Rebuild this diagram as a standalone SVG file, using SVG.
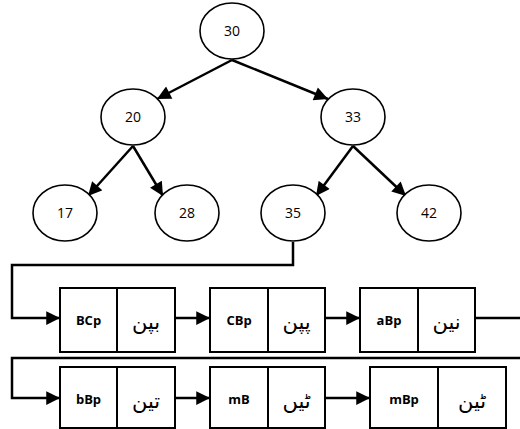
<svg xmlns="http://www.w3.org/2000/svg" width="520" height="429" viewBox="0 0 520 429">
  <style>
    .node ellipse { fill: #fff; stroke: #000; stroke-width: 1.6; }
    .num { font-family: "Open Sans", "Liberation Sans", sans-serif; font-size: 14px; text-anchor: middle; fill: #000; }
    .cell { fill: #fff; stroke: #000; stroke-width: 2; }
    .key { font-family: "Open Sans", "Liberation Sans", sans-serif; font-size: 13px; font-weight: bold; text-anchor: middle; fill: #000; }
    .ur { font-family: "DejaVu Sans", "Noto Sans", sans-serif; font-size: 21px; text-anchor: middle; fill: #000; }
    .edge { fill: none; stroke: #000; stroke-width: 2.5; }
  </style>
  <defs>
    <marker id="arrow" viewBox="0 0 10 10" refX="10" refY="5" markerWidth="6" markerHeight="5.5" markerUnits="strokeWidth" orient="auto">
      <path d="M0,0 L10,5 L0,10 z" fill="#000"/>
    </marker>
  </defs>

  <!-- tree and list connectors -->
  <g id="connectors">
    <line class="edge" x1="232" y1="60" x2="157" y2="99" marker-end="url(#arrow)"/>
    <line class="edge" x1="232" y1="60" x2="328" y2="99" marker-end="url(#arrow)"/>
    <line class="edge" x1="133" y1="146" x2="88" y2="196" marker-end="url(#arrow)"/>
    <line class="edge" x1="133" y1="146" x2="163" y2="196" marker-end="url(#arrow)"/>
    <line class="edge" x1="353" y1="146" x2="316" y2="196" marker-end="url(#arrow)"/>
    <line class="edge" x1="353" y1="146" x2="406" y2="196" marker-end="url(#arrow)"/>
    <path class="edge" d="M293,242 V265 H12 V318 H60" marker-end="url(#arrow)"/>
    <line class="edge" x1="175" y1="318" x2="210" y2="318" marker-end="url(#arrow)"/>
    <line class="edge" x1="325" y1="318" x2="360" y2="318" marker-end="url(#arrow)"/>
    <line class="edge" x1="475" y1="318" x2="520" y2="318"/>
    <path class="edge" d="M520,358 H12 V398 H60" marker-end="url(#arrow)"/>
    <line class="edge" x1="175" y1="398" x2="210" y2="398" marker-end="url(#arrow)"/>
    <line class="edge" x1="325" y1="398" x2="370" y2="398" marker-end="url(#arrow)"/>
  </g>

  <!-- tree nodes -->
  <g id="n30" class="node"><ellipse cx="232" cy="31" rx="32" ry="28"/><text class="num" x="232" y="36">30</text></g>
  <g id="n20" class="node"><ellipse cx="133" cy="117" rx="32" ry="28"/><text class="num" x="133" y="122">20</text></g>
  <g id="n33" class="node"><ellipse cx="353" cy="117" rx="32" ry="28"/><text class="num" x="353" y="122">33</text></g>
  <g id="n17" class="node"><ellipse cx="65" cy="213" rx="32" ry="28"/><text class="num" x="65" y="218">17</text></g>
  <g id="n28" class="node"><ellipse cx="187" cy="213" rx="32" ry="28"/><text class="num" x="187" y="218">28</text></g>
  <g id="n35" class="node"><ellipse cx="293" cy="213" rx="32" ry="28"/><text class="num" x="293" y="218">35</text></g>
  <g id="n42" class="node"><ellipse cx="429" cy="213" rx="32" ry="28"/><text class="num" x="429" y="218">42</text></g>

  <!-- list records: first row -->
  <g id="r1">
    <rect class="cell" x="60" y="288" width="57" height="64"/><rect class="cell" x="117" y="288" width="58" height="64"/>
    <text class="key" x="88.5" y="325">BCp</text><text class="ur" x="146" y="329">بپن</text>
  </g>
  <g id="r2">
    <rect class="cell" x="210" y="288" width="58" height="64"/><rect class="cell" x="268" y="288" width="57" height="64"/>
    <text class="key" x="239" y="325">CBp</text><text class="ur" x="296.5" y="329">پپن</text>
  </g>
  <g id="r3">
    <rect class="cell" x="360" y="288" width="58" height="64"/><rect class="cell" x="418" y="288" width="57" height="64"/>
    <text class="key" x="389" y="325">aBp</text><text class="ur" x="446.5" y="329">نین</text>
  </g>

  <!-- list records: second row -->
  <g id="r4">
    <rect class="cell" x="60" y="367" width="57" height="61"/><rect class="cell" x="117" y="367" width="58" height="61"/>
    <text class="key" x="88.5" y="404">bBp</text><text class="ur" x="146" y="408">تین</text>
  </g>
  <g id="r5">
    <rect class="cell" x="210" y="367" width="58" height="61"/><rect class="cell" x="268" y="367" width="57" height="61"/>
    <text class="key" x="239" y="404">mB</text><text class="ur" x="296.5" y="408">ٹیں</text>
  </g>
  <g id="r6">
    <rect class="cell" x="370" y="367" width="68" height="61"/><rect class="cell" x="438" y="367" width="68" height="61"/>
    <text class="key" x="404" y="404">mBp</text><text class="ur" x="472" y="408">ٹین</text>
  </g>
</svg>
